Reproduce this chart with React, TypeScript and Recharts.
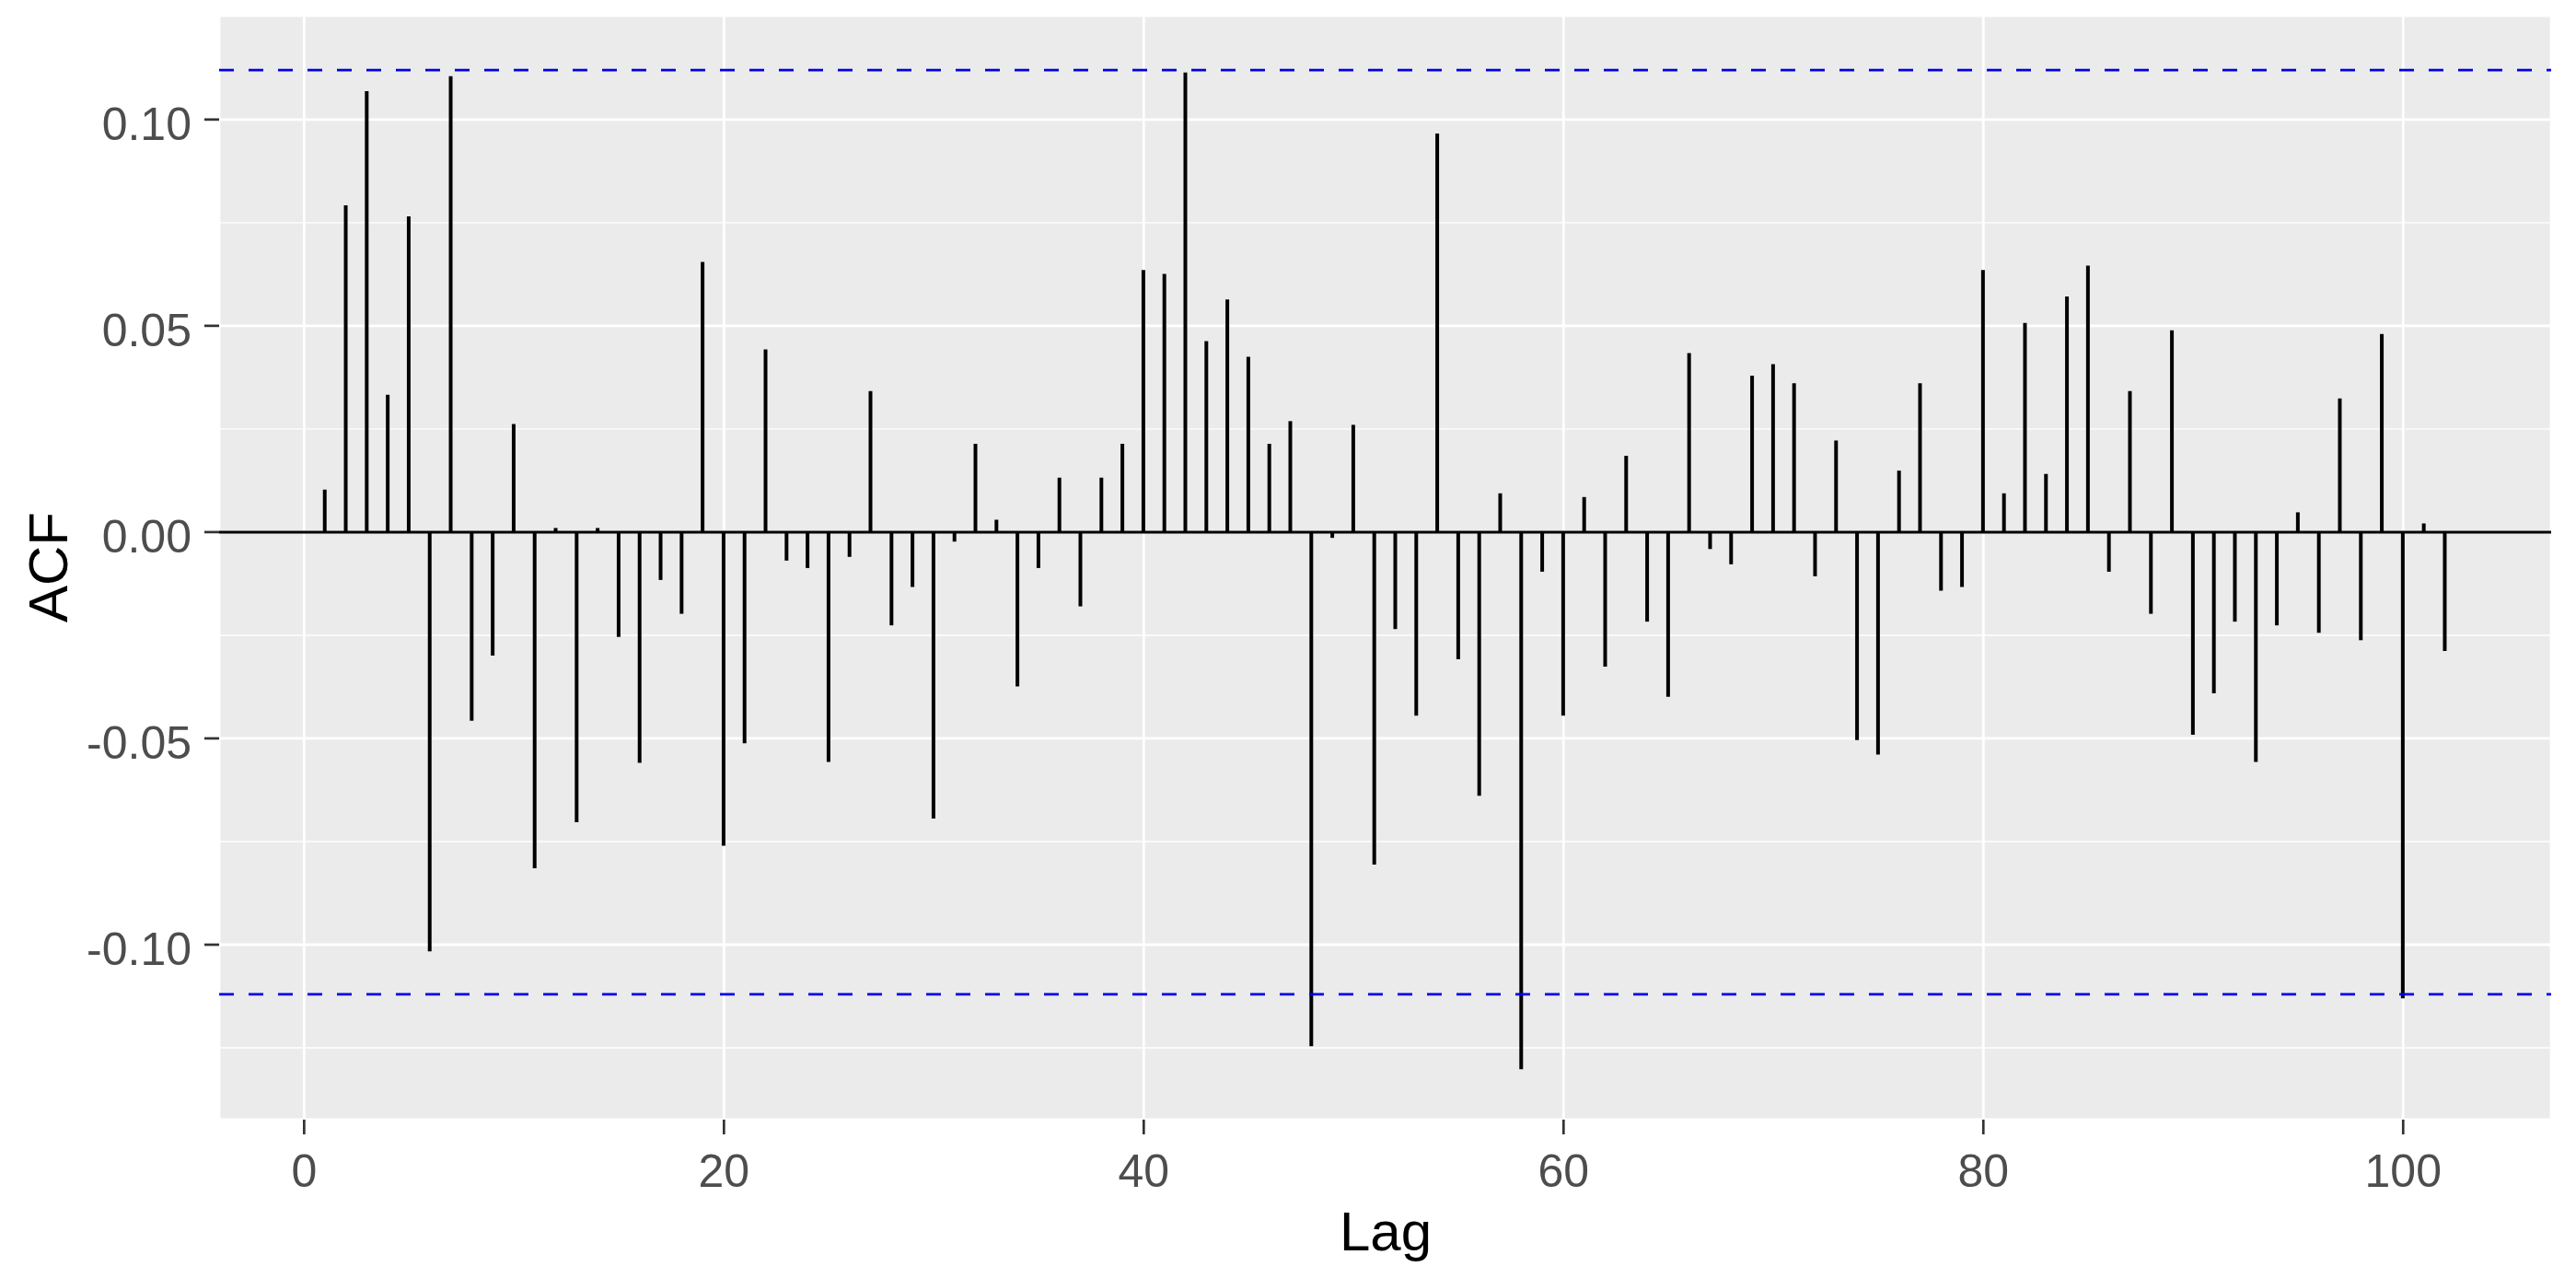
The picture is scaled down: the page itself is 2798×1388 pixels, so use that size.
import { ComposedChart, Bar, XAxis, YAxis, CartesianGrid, ReferenceLine } from 'recharts'

const lags = [
  1, 2, 3, 4, 5, 6, 7, 8, 9, 10, 11, 12, 13, 14, 15, 16, 17, 18, 19, 20,
  21, 22, 23, 24, 25, 26, 27, 28, 29, 30, 31, 32, 33, 34, 35, 36, 37, 38, 39, 40,
  41, 42, 43, 44, 45, 46, 47, 48, 49, 50, 51, 52, 53, 54, 55, 56, 57, 58, 59, 60,
  61, 62, 63, 64, 65, 66, 67, 68, 69, 70, 71, 72, 73, 74, 75, 76, 77, 78, 79, 80,
  81, 82, 83, 84, 85, 86, 87, 88, 89, 90, 91, 92, 93, 94, 95, 96, 97, 98, 99, 100,
  101, 102,
]

const acfValues = [
  0.0103, 0.0792, 0.1069, 0.0333, 0.0765, -0.1016, 0.1105, -0.0457, -0.0299, 0.0262,
  -0.0815, 0.001, -0.0703, 0.001, -0.0254, -0.0559, -0.0116, -0.0198, 0.0655, -0.076,
  -0.0512, 0.0443, -0.0069, -0.0087, -0.0557, -0.006, 0.0342, -0.0226, -0.0133, -0.0694,
  -0.0023, 0.0214, 0.003, -0.0374, -0.0087, 0.0132, -0.018, 0.0132, 0.0214, 0.0635,
  0.0626, 0.1114, 0.0463, 0.0564, 0.0425, 0.0214, 0.0269, -0.1246, -0.0014, 0.026,
  -0.0806, -0.0235, -0.0445, 0.0966, -0.0308, -0.0639, 0.0094, -0.1302, -0.0096, -0.0445,
  0.0085, -0.0326, 0.0185, -0.0217, -0.0399, 0.0434, -0.0041, -0.0078, 0.0379, 0.0407,
  0.0361, -0.0107, 0.0222, -0.0504, -0.0539, 0.0149, 0.0361, -0.0142, -0.0133, 0.0635,
  0.0094, 0.0507, 0.0141, 0.0571, 0.0646, -0.0096, 0.0342, -0.0198, 0.0489, -0.0491,
  -0.0391, -0.0217, -0.0557, -0.0226, 0.0048, -0.0244, 0.0324, -0.0262, 0.048, -0.113,
  0.0021, -0.0288,
]

// 95% confidence bound
const ciBound = 0.112

const xTicks = [0, 20, 40, 60, 80, 100]
const yTicks = [-0.1, -0.05, 0, 0.05, 0.1]
const yMinorTicks = [-0.125, -0.075, -0.025, 0.025, 0.075, 0.125]

const data = lags.map((lag, i) => ({ lag, acf: acfValues[i] }))

const font = '"Liberation Sans", Arial, sans-serif'
const tickStyle = { fill: '#4D4D4D', fontSize: 50, fontFamily: font }
const tickLineStyle = { stroke: '#333333', strokeWidth: 2.7 }

export default function App() {
  return (
    <div style={{ position: 'relative', width: 2798, height: 1388, background: '#fff' }}>
      <style>{'body{margin:0}'}</style>
      <ComposedChart width={2798} height={1388} data={data} margin={{ top: 16, right: 27, bottom: 0, left: 0 }}>
        <CartesianGrid fill="#EBEBEB" fillOpacity={1} stroke="#FFFFFF" strokeWidth={2.8} />
        <CartesianGrid horizontalValues={yMinorTicks} vertical={false} stroke="#FFFFFF" strokeWidth={1.4} />
        <XAxis
          type="number"
          dataKey="lag"
          domain={[-4.05, 107.05]}
          ticks={xTicks}
          allowDataOverflow
          height={172}
          tickSize={16}
          tickMargin={21}
          axisLine={false}
          tick={tickStyle}
          tickLine={tickLineStyle}
        />
        <YAxis
          type="number"
          domain={[-0.1424, 0.1254]}
          ticks={yTicks}
          allowDataOverflow
          width={238}
          tickSize={16}
          tickMargin={14}
          axisLine={false}
          tick={{ ...tickStyle, dy: 4 }}
          tickLine={tickLineStyle}
          tickFormatter={v => (v as number).toFixed(2)}
        />
        <Bar dataKey="acf" fill="#000000" barSize={4} isAnimationActive={false} />
        <ReferenceLine y={0} stroke="#000000" strokeWidth={3} />
        <ReferenceLine y={ciBound} stroke="#0000E6" strokeWidth={2.8} strokeDasharray="16 16" />
        <ReferenceLine y={-ciBound} stroke="#0000E6" strokeWidth={2.8} strokeDasharray="16 16" />
      </ComposedChart>
      <svg width={2798} height={1388} style={{ position: 'absolute', left: 0, top: 0, pointerEvents: 'none' }}>
        <text x={1505} y={1358} textAnchor="middle" fontSize={60} fontFamily={font} fill="#000">Lag</text>
        <text x={73} y={616} textAnchor="middle" fontSize={60} fontFamily={font} fill="#000" transform="rotate(-90 73 616)">ACF</text>
      </svg>
    </div>
  )
}
